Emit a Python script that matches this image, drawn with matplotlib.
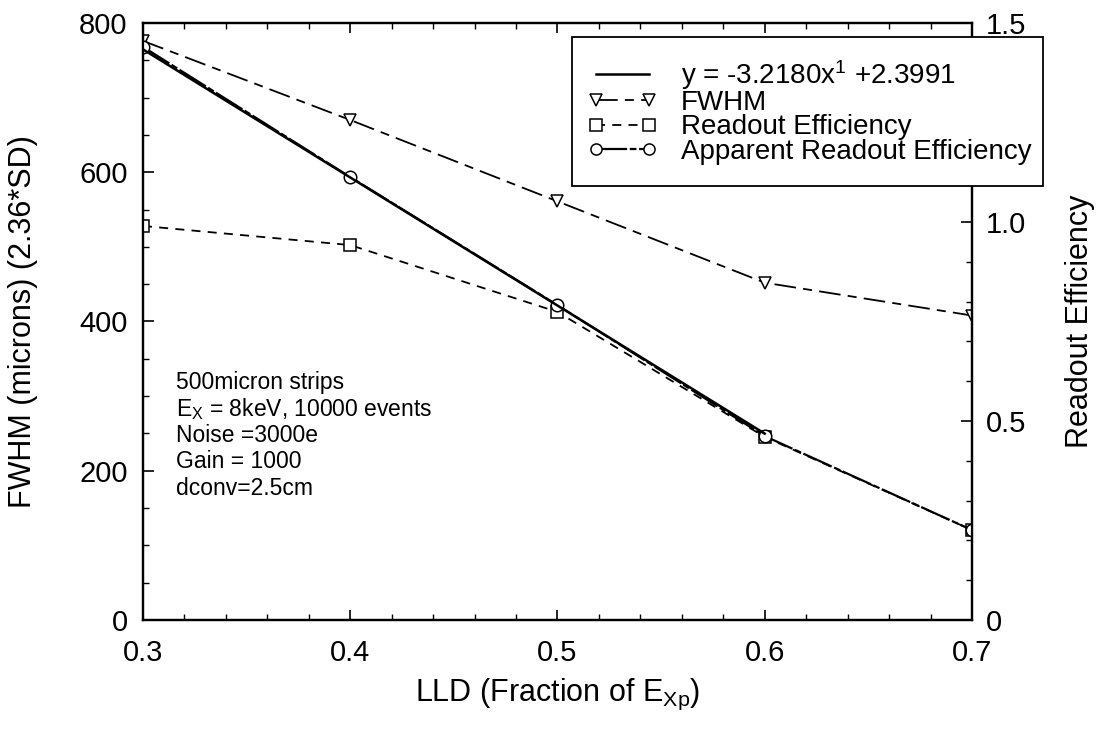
import matplotlib
matplotlib.use('Agg')
import matplotlib.pyplot as plt
from matplotlib.ticker import MultipleLocator
from matplotlib.patches import Rectangle

plt.rcParams['font.family'] = ['Liberation Sans', 'DejaVu Sans']
plt.rcParams['mathtext.fontset'] = 'custom'
plt.rcParams['mathtext.rm'] = 'Liberation Sans'
plt.rcParams['mathtext.it'] = 'Liberation Sans:italic'
plt.rcParams['mathtext.bf'] = 'Liberation Sans:bold'

# ---- data ----
lld = [0.3, 0.4, 0.5, 0.6, 0.7]
fwhm = [776, 670, 561, 452, 408]
readout_eff = [0.99, 0.942, 0.774, 0.460, 0.226]
apparent_eff = [1.44, 1.113, 0.791, 0.462, 0.226]
fit_slope = -3.2180
fit_intercept = 2.3991
fit_x = [0.3, 0.6]
fit_y = [fit_slope * v + fit_intercept for v in fit_x]

x_ticks = [0.3, 0.4, 0.5, 0.6, 0.7]
left_ticks = [0, 200, 400, 600, 800]
right_ticks = [0, 0.5, 1.0, 1.5]
right_ticklabels = ['0', '0.5', '1.0', '1.5']

info_lines = ['500micron strips',
              r'E$_{\mathrm{X}}$ = 8keV, 10000 events',
              'Noise =3000e',
              'Gain = 1000',
              'dconv=2.5cm']

# ---- figure ----
W, H = 1098, 746
fig = plt.figure(figsize=(10.98, 7.46), dpi=100)
ax = fig.add_axes([0.1302, 0.1689, 0.755, 0.8003])
ax2 = ax.twinx()

mk = dict(markerfacecolor='white', markeredgecolor='black', markeredgewidth=1.1, markersize=9)

l_fwhm, = ax.plot(lld, fwhm, color='black', lw=1.3, linestyle=(0, (12, 4, 5, 4)),
                  marker='v', label='FWHM', **mk)
l_read, = ax2.plot(lld, readout_eff, color='black', lw=1.3, linestyle=(0, (5, 4)),
                   marker='s', label='Readout Efficiency', **mk)
l_app, = ax2.plot(lld, apparent_eff, color='black', lw=1.6, linestyle=(0, (14, 1.2, 3, 1.2)),
                  marker='o', label='Apparent Readout Efficiency', **mk)
l_fit, = ax2.plot(fit_x, fit_y, color='black', lw=1.8, linestyle='-',
                  label=r'y = -3.2180x$^{\mathrm{1}}$ +2.3991')

ax.set_xlim(0.3, 0.7)
ax.set_ylim(0, 800)
ax2.set_ylim(0, 1.5)

ax.set_xticks(x_ticks)
ax.set_xticklabels([f'{v:.1f}' for v in x_ticks])
ax.set_yticks(left_ticks)
ax2.set_yticks(right_ticks)
ax2.set_yticklabels(right_ticklabels)
ax.xaxis.set_minor_locator(MultipleLocator(0.02))
ax.yaxis.set_minor_locator(MultipleLocator(50))
ax2.yaxis.set_minor_locator(MultipleLocator(0.1))

for a in (ax, ax2):
    for s in a.spines.values():
        s.set_linewidth(1.6)
        s.set_color('black')

ax.tick_params(axis='x', which='major', direction='in', length=7, width=1.2,
               labelsize=21, top=True, pad=14)
ax.tick_params(axis='y', which='major', direction='in', length=8, width=1.2,
               labelsize=21, pad=11)
ax.tick_params(axis='both', which='minor', direction='in', length=4, width=1.0, top=True)
ax.tick_params(axis='y', right=False, which='both')
ax2.tick_params(axis='y', which='major', direction='in', length=8, width=1.2, labelsize=21, pad=10)
ax2.tick_params(axis='y', which='minor', direction='in', length=4, width=1.0)

ax.set_xlabel(r'LLD (Fraction of E$_{\mathrm{Xp}}$)', fontsize=22)
ax.set_ylabel('FWHM (microns) (2.36*SD)', fontsize=22)
ax2.set_ylabel('Readout Efficiency', fontsize=22)
ax.xaxis.set_label_coords(0.5, -0.095)
ax.yaxis.set_label_coords(-0.127, 0.5)
ax2.yaxis.set_label_coords(1.112, 0.5)

for i, t in enumerate(info_lines):
    ax.text(0.040, 0.397 - i * 0.044, t, transform=ax.transAxes, fontsize=16.5,
            va='center', ha='left')

# legend box (frame drawn separately to match reference padding)
ax2.add_patch(Rectangle((572 / W, 1 - 186 / H), (1043 - 572) / W, (186 - 37) / H,
                        transform=fig.transFigure, facecolor='white', edgecolor='black',
                        linewidth=1.3, clip_on=False, zorder=4.9))
leg = ax2.legend(handles=[l_fit, l_fwhm, l_read, l_app], loc='upper left',
                 bbox_to_anchor=(588 / W, 1 - 58 / H), bbox_transform=fig.transFigure,
                 fontsize=20, frameon=False, borderaxespad=0, borderpad=0,
                 handlelength=2.5, handletextpad=0.85,
                 labelspacing=-0.06, numpoints=2)
leg.set_zorder(5)
for h in leg.legend_handles:
    h.set_markersize(8)

fig.savefig('out.png', dpi=100)
